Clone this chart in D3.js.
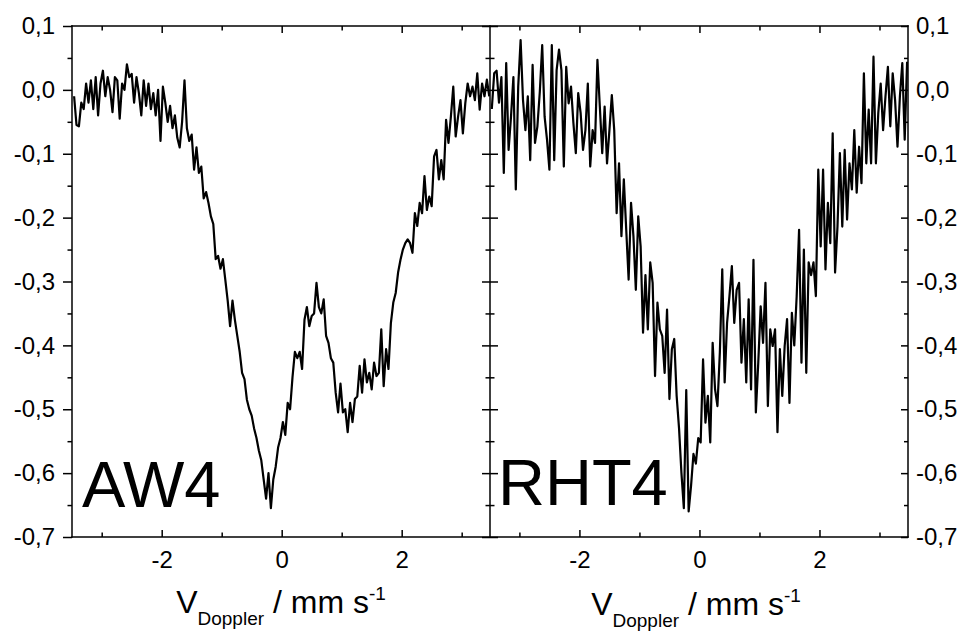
<!DOCTYPE html>
<html>
<head>
<meta charset="utf-8">
<script src="https://cdn.jsdelivr.net/npm/d3@7"></script>
<style>
  body { margin: 0; background: #fff; }
  svg text { font-family: "Liberation Sans", Arial, Helvetica, sans-serif; fill: #000; }
</style>
</head>
<body>
<div id="chart"></div>
<script>
// Mössbauer spectra, relative transmission vs Doppler velocity (mm/s)
const vStart = -3.46;
const vStep = 0.04;

const aw4 = [
  -0.01, -0.055, -0.057, -0.02, -0.03, 0.01, -0.02, 0.015, -0.03, 0.02,
  -0.04, 0.01, 0.03, -0.01, 0.02, 0.0, -0.035, 0.02, 0.015, -0.045,
  0.01, 0.0, 0.04, 0.02, 0.025, -0.02, 0.02, -0.005, -0.04, 0.015,
  -0.025, 0.01, -0.03, -0.005, -0.04, 0.0, -0.08, 0.005, -0.02, -0.05,
  -0.025, -0.06, -0.04, -0.075, -0.09, -0.05, 0.015, -0.06, -0.08, -0.07,
  -0.125, -0.09, -0.13, -0.12, -0.17, -0.16, -0.177, -0.198, -0.21, -0.265,
  -0.26, -0.28, -0.265, -0.297, -0.33, -0.37, -0.33, -0.36, -0.385, -0.41,
  -0.443, -0.453, -0.485, -0.5, -0.51, -0.53, -0.545, -0.565, -0.58, -0.61,
  -0.64, -0.6, -0.655, -0.61, -0.59, -0.56, -0.545, -0.52, -0.54, -0.49,
  -0.5, -0.45, -0.41, -0.42, -0.41, -0.437, -0.36, -0.34, -0.37, -0.354,
  -0.35, -0.302, -0.34, -0.35, -0.328, -0.385, -0.396, -0.42, -0.427, -0.474,
  -0.505, -0.46, -0.505, -0.5, -0.536, -0.49, -0.52, -0.484, -0.48, -0.432,
  -0.474, -0.422, -0.458, -0.443, -0.469, -0.427, -0.448, -0.443, -0.375, -0.464,
  -0.406, -0.437, -0.365, -0.333, -0.318, -0.286, -0.266, -0.25, -0.24, -0.234,
  -0.24, -0.255, -0.193, -0.213, -0.177, -0.193, -0.135, -0.188, -0.167, -0.182,
  -0.104, -0.094, -0.14, -0.11, -0.14, -0.047, -0.083, -0.042, 0.005, -0.073,
  -0.042, -0.016, -0.068, -0.021, 0.01, -0.01, 0.005, -0.016, 0.026, -0.031,
  0.01, -0.01, 0.016, -0.01
];

const rht4 = [
  -0.03, 0.026, 0.03, -0.02, 0.02, -0.13, 0.042, -0.094, -0.042, 0.02,
  -0.156, 0.005, 0.078, -0.016, -0.063, -0.01, -0.11, 0.039, -0.083, -0.057,
  -0.003, 0.07, -0.042, -0.078, -0.125, 0.07, -0.11, 0.031, 0.063, 0.031,
  -0.12, 0.036, -0.021, 0.005, -0.052, -0.099, -0.005, -0.036, -0.094, -0.063,
  0.01, -0.12, -0.063, -0.083, 0.047, -0.026, -0.099, -0.026, -0.115, -0.063,
  -0.008, -0.063, -0.193, -0.115, -0.229, -0.14, -0.219, -0.297, -0.177, -0.229,
  -0.313, -0.198, -0.245, -0.38, -0.29, -0.375, -0.27, -0.302, -0.448, -0.333,
  -0.375, -0.385, -0.443, -0.344, -0.484, -0.406, -0.39, -0.479, -0.53, -0.6,
  -0.655, -0.47, -0.66, -0.62, -0.57, -0.585, -0.545, -0.552, -0.422, -0.521,
  -0.479, -0.552, -0.396, -0.469, -0.495, -0.411, -0.281, -0.458, -0.365, -0.323,
  -0.276, -0.365, -0.313, -0.302, -0.427, -0.359, -0.458, -0.328, -0.469, -0.266,
  -0.505, -0.427, -0.339, -0.396, -0.302, -0.495, -0.375, -0.401, -0.375, -0.536,
  -0.406, -0.479, -0.401, -0.359, -0.49, -0.349, -0.4, -0.323, -0.219, -0.427,
  -0.25, -0.443, -0.27, -0.29, -0.27, -0.323, -0.125, -0.245, -0.125, -0.281,
  -0.177, -0.24, -0.068, -0.286, -0.214, -0.099, -0.214, -0.094, -0.203, -0.115,
  -0.156, -0.063, -0.161, -0.089, -0.146, 0.026, -0.115, -0.031, -0.115, 0.052,
  -0.115, -0.036, 0.01, -0.063, -0.01, 0.036, -0.057, 0.026, -0.016, -0.089,
  -0.01, 0.042, -0.078, 0.044
];

const panelNames = ["AW4", "RHT4"];
const xMajor = [-2, 0, 2];
const xMinor = [-3, -1, 1, 3];
const yMajor = [0.1, 0.0, -0.1, -0.2, -0.3, -0.4, -0.5, -0.6, -0.7];
const yMinor = [0.05, -0.05, -0.15, -0.25, -0.35, -0.45, -0.55, -0.65];

const width = 969;
const height = 631;
const plotLeft = 72, plotMid = 490, plotRight = 908, plotTop = 26, plotBottom = 537;

const svg = d3.select("#chart")
  .append("svg")
  .attr("width", width)
  .attr("height", height);

const y = d3.scaleLinear().domain([-0.7, 0.1]).range([plotBottom, plotTop]);
const xLeft = d3.scaleLinear().domain([-3.495, 3.472]).range([plotLeft, plotMid]);
const xRight = d3.scaleLinear().domain([-3.49, 3.475]).range([plotMid, plotRight]);

const fmtY = d => d.toFixed(1).replace(".", ",");
const series = [aw4, rht4];
const xScales = [xLeft, xRight];

svg.append("defs").selectAll("clipPath")
  .data(xScales)
  .enter()
  .append("clipPath")
  .attr("id", (d, i) => "clip" + i)
  .append("rect")
  .attr("x", d => d.range()[0])
  .attr("y", plotTop)
  .attr("width", d => d.range()[1] - d.range()[0])
  .attr("height", plotBottom - plotTop);

function styleAxis(g) {
  g.select(".domain").remove();
  g.selectAll("line").attr("stroke", "#000").attr("stroke-width", 1.5);
  g.selectAll("text").style("font-size", "24px").attr("fill", "#000");
}

// y axes: left outer, middle (both sides), right outer
svg.append("g").attr("transform", `translate(${plotLeft},0)`)
  .call(d3.axisLeft(y).tickValues(yMajor).tickSize(9).tickPadding(8).tickFormat(fmtY))
  .call(styleAxis);
svg.append("g").attr("transform", `translate(${plotLeft},0)`)
  .call(d3.axisLeft(y).tickValues(yMinor).tickSize(4.5).tickFormat(""))
  .call(styleAxis);

[d3.axisLeft, d3.axisRight].forEach(ax => {
  svg.append("g").attr("transform", `translate(${plotMid},0)`)
    .call(ax(y).tickValues(yMajor).tickSize(8).tickFormat(""))
    .call(styleAxis);
  svg.append("g").attr("transform", `translate(${plotMid},0)`)
    .call(ax(y).tickValues(yMinor).tickSize(4.5).tickFormat(""))
    .call(styleAxis);
});

svg.append("g").attr("transform", `translate(${plotRight},0)`)
  .call(d3.axisRight(y).tickValues(yMajor).tickSizeInner(-7).tickSizeOuter(0).tickPadding(8).tickFormat(fmtY))
  .call(styleAxis);
svg.append("g").attr("transform", `translate(${plotRight},0)`)
  .call(d3.axisRight(y).tickValues(yMinor).tickSizeInner(-4).tickSizeOuter(0).tickFormat(""))
  .call(styleAxis);

// x axes per panel
xScales.forEach((x, i) => {
  svg.append("g").attr("transform", `translate(0,${plotBottom})`)
    .call(d3.axisBottom(x).tickValues(xMajor).tickSizeInner(-7).tickSizeOuter(0).tickPadding(14).tickFormat(d => String(d)))
    .call(styleAxis);
  svg.append("g").attr("transform", `translate(0,${plotBottom})`)
    .call(d3.axisBottom(x).tickValues(xMinor).tickSizeInner(-4.5).tickSizeOuter(0).tickFormat(""))
    .call(styleAxis);
  svg.append("g").attr("transform", `translate(0,${plotTop})`)
    .call(d3.axisTop(x).tickValues(xMajor).tickSizeInner(-7).tickSizeOuter(0).tickFormat(""))
    .call(styleAxis);
  svg.append("g").attr("transform", `translate(0,${plotTop})`)
    .call(d3.axisTop(x).tickValues(xMinor).tickSizeInner(-4.5).tickSizeOuter(0).tickFormat(""))
    .call(styleAxis);

  const line = d3.line()
    .x((d, j) => x(vStart + j * vStep))
    .y(d => y(d));
  svg.append("path")
    .datum(series[i])
    .attr("clip-path", `url(#clip${i})`)
    .attr("fill", "none")
    .attr("stroke", "#000")
    .attr("stroke-width", 2.2)
    .attr("stroke-linejoin", "round")
    .attr("d", line);

  // x axis title
  const title = svg.append("text")
    .attr("x", (x.range()[0] + x.range()[1]) / 2 - (i === 0 ? 0 : 3))
    .attr("y", i === 0 ? 613 : 615)
    .attr("text-anchor", "middle")
    .style("font-size", "32px");
  title.append("tspan").text("V");
  title.append("tspan").attr("dy", 12).style("font-size", "19px").text("Doppler");
  title.append("tspan").attr("dy", -12).text(" / mm s");
  title.append("tspan").attr("dy", -13).style("font-size", "19px").text("-1");
});

// frame lines
svg.append("g")
  .selectAll("line")
  .data([
    [plotLeft, plotTop, plotRight, plotTop], [plotLeft, plotBottom, plotRight, plotBottom],
    [plotLeft, plotTop, plotLeft, plotBottom], [plotMid, plotTop, plotMid, plotBottom],
    [plotRight, plotTop, plotRight, plotBottom]
  ])
  .enter()
  .append("line")
  .attr("x1", d => d[0]).attr("y1", d => d[1])
  .attr("x2", d => d[2]).attr("y2", d => d[3])
  .attr("stroke", "#000")
  .attr("stroke-width", 1.5)
  .attr("stroke-linecap", "square");

// sample names
svg.selectAll("text.name")
  .data(panelNames)
  .enter()
  .append("text")
  .attr("class", "name")
  .attr("x", (d, i) => i === 0 ? 82 : 498)
  .attr("y", (d, i) => i === 0 ? 507 : 505)
  .style("font-size", "65px")
  .text(d => d);
</script>
</body>
</html>
